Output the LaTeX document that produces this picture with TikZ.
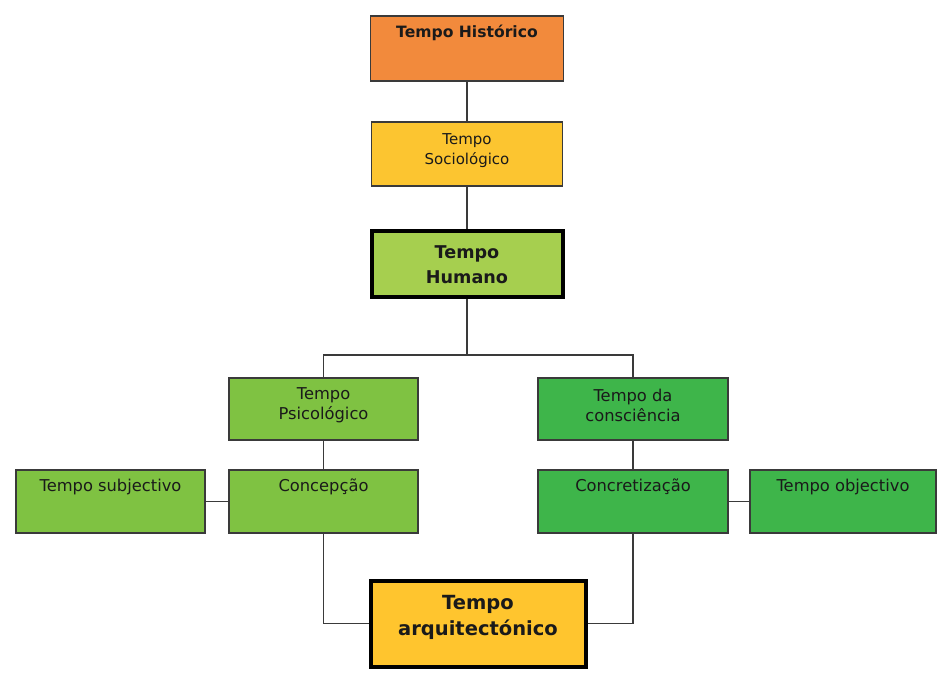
\documentclass[tikz,border=0pt]{standalone}
\usepackage{fontspec}
\setmainfont{DejaVu Sans}
\definecolor{corange}{HTML}{F28A3C}
\definecolor{cyellow}{HTML}{FCC530}
\definecolor{chuman}{HTML}{A6CF4F}
\definecolor{clgreen}{HTML}{7FC242}
\definecolor{cdgreen}{HTML}{3EB54A}
\definecolor{carq}{HTML}{FFC52E}
\definecolor{cline}{HTML}{3A3A3A}
\definecolor{ctext}{HTML}{1A1A1A}
\tikzset{
  box/.style={draw=cline, line width=1.8pt, rectangle, inner sep=0pt},
  thickbox/.style={draw=black, line width=4pt, rectangle, inner sep=0pt},
  lbl/.style={text=ctext, align=center, font=\fontsize{16.3}{20}\selectfont, inner sep=0pt},
  conn/.style={draw=cline, line width=1.8pt},
}
\begin{document}
\begin{tikzpicture}[x=1pt,y=-1pt]
\useasboundingbox (0,0) rectangle (943,673);
% boxes
\node[box, fill=corange, minimum width=193pt, minimum height=65pt] (hist) at (467,48.5) {};
\node[lbl, font=\fontsize{15.6}{18}\selectfont\bfseries] (histT) at (467,33) {Tempo Histórico};
\node[box, fill=cyellow, minimum width=191pt, minimum height=64pt] (soc) at (467,154) {};
\node[lbl, font=\fontsize{15}{20}\selectfont] (socT) at (467,151) {Tempo\\Sociológico};
\node[thickbox, fill=chuman, minimum width=191pt, minimum height=66pt] (hum) at (467,264) {};
\node[lbl, font=\fontsize{17.6}{25}\selectfont\bfseries] (humT) at (467,265) {Tempo\\Humano};
\node[box, fill=clgreen, minimum width=189pt, minimum height=62pt] (psi) at (323.5,409) {};
\node[lbl] (psiT) at (323.5,405) {Tempo\\Psicológico};
\node[box, fill=cdgreen, minimum width=190pt, minimum height=62pt] (con) at (633,409) {};
\node[lbl] (conT) at (633,405) {Tempo da\\consciência};
\node[box, fill=clgreen, minimum width=189pt, minimum height=63pt] (cep) at (323.5,501.5) {};
\node[lbl] (cepT) at (323.5,487) {Concepção};
\node[box, fill=clgreen, minimum width=189pt, minimum height=63pt] (sub) at (110.5,501.5) {};
\node[lbl] (subT) at (110.5,487) {Tempo subjectivo};
\node[box, fill=cdgreen, minimum width=190pt, minimum height=63pt] (cre) at (633,501.5) {};
\node[lbl] (creT) at (633,487) {Concretização};
\node[box, fill=cdgreen, minimum width=186pt, minimum height=63pt] (obj) at (843,501.5) {};
\node[lbl] (objT) at (843,487) {Tempo objectivo};
\node[thickbox, fill=carq, minimum width=215pt, minimum height=86pt] (arq) at (478,623.5) {};
\node[lbl, font=\fontsize{19.5}{26}\selectfont\bfseries] (arqT) at (478,617) {Tempo\\arquitectónico};
% connectors
\coordinate (split) at (467,355);
\draw[conn] (hist.south) -- (soc.north);
\draw[conn] (soc.south) -- (hum.north);
\draw[conn] (hum.south) -- (split);
\draw[conn] (psi.north) -- (psi.north |- split) -- (con.north |- split) -- (con.north);
\draw[conn] (psi.south) -- (cep.north);
\draw[conn] (con.south) -- (cre.north);
\draw[conn] (sub.east) -- (cep.west);
\draw[conn] (cre.east) -- (obj.west);
\draw[conn] (cep.south) -- (cep.south |- arq.east) -- (arq.west);
\draw[conn] (cre.south) -- (cre.south |- arq.east) -- (arq.east);
\end{tikzpicture}
\end{document}
